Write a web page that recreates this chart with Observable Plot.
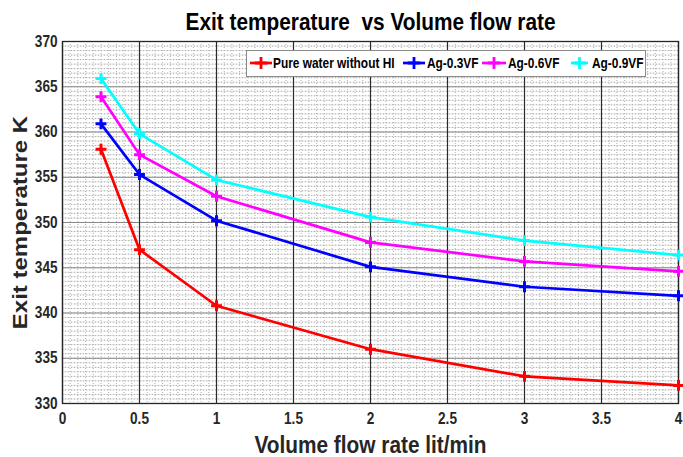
<!DOCTYPE html>
<html>
<head>
<meta charset="utf-8">
<script src="https://cdn.jsdelivr.net/npm/d3@7"></script>
<script src="https://cdn.jsdelivr.net/npm/@observablehq/plot@0.6"></script>
<style>
  html, body { margin: 0; padding: 0; background: #fff; }
  #wrap { position: relative; width: 683px; height: 457px; }
  #legend {
    position: absolute; left: 246px; top: 50px; width: 400px; height: 27px;
    border: 1px solid #8a8a8a; background: #fff; box-sizing: border-box;
    font-family: "Liberation Sans", Arial, sans-serif; font-weight: bold; font-size: 14.5px; color: #000;
  }
  .sample { position: absolute; top: 6px; display: block; }
  .ltext { position: absolute; top: 4px; white-space: nowrap; transform: scaleX(0.82); transform-origin: 0 50%; line-height: 17px; }
</style>
</head>
<body>
<div id="wrap"></div>
<script>
// ---- data ----
const titleText = "Exit temperature  vs Volume flow rate";
const xLabelText = "Volume flow rate lit/min";
const yLabelText = "Exit temperature K";
const flowRate = [0.25, 0.5, 1, 2, 3, 4];
const pureWater = [358.1, 347.0, 340.8, 336.0, 333.0, 332.0];
const ag03 = [360.9, 355.3, 350.2, 345.1, 342.9, 341.9];
const ag06 = [363.9, 357.5, 352.9, 347.8, 345.7, 344.6];
const ag09 = [365.9, 359.8, 354.7, 350.6, 348.0, 346.4];
const seriesNames = ["Pure water without HI", "Ag-0.3VF", "Ag-0.6VF", "Ag-0.9VF"];
const seriesColors = ["#ff0000", "#0000ff", "#ff00ff", "#00ffff"];
const xTicks = [0, 0.5, 1, 1.5, 2, 2.5, 3, 3.5, 4];
const xTickLabels = ["0", "0.5", "1", "1.5", "2", "2.5", "3", "3.5", "4"];
const yTicks = [330, 335, 340, 345, 350, 355, 360, 365, 370];

const seriesValues = [pureWater, ag03, ag06, ag09];
const rows = seriesValues.flatMap((vals, s) =>
  vals.map((v, i) => ({series: seriesNames[s], x: flowRate[i], y: v})));

const font = '"Liberation Sans", Arial, sans-serif';

const chart = Plot.plot({
  width: 683,
  height: 457,
  marginTop: 41,
  marginLeft: 62,
  marginRight: 5,
  marginBottom: 54,
  style: {fontFamily: font, fontWeight: "bold", fontSize: "16px", color: "#262626", background: "#fff"},
  x: {domain: [0, 4]},
  y: {domain: [330, 370]},
  color: {domain: seriesNames, range: seriesColors},
  marks: [
    Plot.gridY({ticks: 80, stroke: "#e4e4e4", strokeOpacity: 1, strokeWidth: 1}),
    Plot.gridX({ticks: 80, stroke: "#b0b0b0", strokeOpacity: 1, strokeDasharray: "1,2", strokeWidth: 1}),
    Plot.gridY({ticks: 80, stroke: "#b0b0b0", strokeOpacity: 1, strokeDasharray: "1,2", strokeWidth: 1}),
    Plot.gridY(yTicks, {stroke: "#8a8a8a", strokeOpacity: 1, strokeWidth: 1.2}),
    Plot.gridX(xTicks, {stroke: "#2a2a2a", strokeOpacity: 1, strokeWidth: 1.2}),
    Plot.frame({stroke: "#262626", strokeWidth: 1.3}),
    Plot.axisX(xTicks, {tickSize: 0, tickPadding: 9, tickFormat: (d, i) => xTickLabels[i], label: null, fontSize: 16, fill: "#262626"}),
    Plot.axisY(yTicks, {tickSize: 0, tickPadding: 5, label: null, fontSize: 16, fill: "#262626"}),
    Plot.line(rows, {x: "x", y: "y", z: "series", stroke: "series", strokeWidth: 2.7}),
    Plot.dot(rows, {x: "x", y: "y", stroke: "series", symbol: "plus", r: 3.6, strokeWidth: 3}),
    Plot.text([titleText], {text: d => d, frameAnchor: "top", dy: -19, fontSize: 24.5, fill: "#000", lineAnchor: "middle", textAnchor: "middle"}),
    Plot.text([xLabelText], {text: d => d, frameAnchor: "bottom", dy: 42, fontSize: 24.5, fill: "#262626", lineAnchor: "middle", textAnchor: "middle"}),
    Plot.text([yLabelText], {text: d => d, frameAnchor: "left", dx: -42, rotate: -90, fontSize: 24, fill: "#262626", lineAnchor: "middle", textAnchor: "middle", className: "ylab"})
  ]
});

const wrap = document.getElementById("wrap");
wrap.appendChild(chart);

// horizontal squish of horizontal text (reference image is compressed horizontally)
d3.select(chart).selectAll("text").each(function() {
  if (this.closest(".ylab")) return;
  const len = this.getComputedTextLength();
  if (len > 0) {
    this.setAttribute("textLength", (len * 0.85).toFixed(2));
    this.setAttribute("lengthAdjust", "spacingAndGlyphs");
  }
});
d3.select(chart).selectAll(".ylab text").each(function() {
  const t = this.getAttribute("transform") || "";
  this.setAttribute("transform", t + " scale(1,0.87)");
});

// legend (HTML overlay inside the plot frame)
const legend = document.createElement("div");
legend.id = "legend";
const sampleLefts = [3, 156, 235, 324];
const sampleWidths = [22, 22, 24, 17];
const textLefts = [26, 180, 261, 345];
seriesNames.forEach((name, i) => {
  const sw = sampleWidths[i];
  const svg = d3.create("svg").attr("class", "sample").attr("width", sw).attr("height", 12)
    .style("left", sampleLefts[i] + "px");
  svg.append("line").attr("x1", 0).attr("x2", sw).attr("y1", 6).attr("y2", 6)
    .attr("stroke", seriesColors[i]).attr("stroke-width", 2.7);
  svg.append("path").attr("d", d3.symbol(d3.symbolPlus, 52)())
    .attr("transform", `translate(${sw / 2},6)`)
    .attr("stroke", seriesColors[i]).attr("stroke-width", 2.8).attr("fill", "none");
  legend.appendChild(svg.node());
  const span = document.createElement("span");
  span.className = "ltext";
  span.style.left = textLefts[i] + "px";
  span.textContent = name;
  legend.appendChild(span);
});
wrap.appendChild(legend);
</script>
</body>
</html>
